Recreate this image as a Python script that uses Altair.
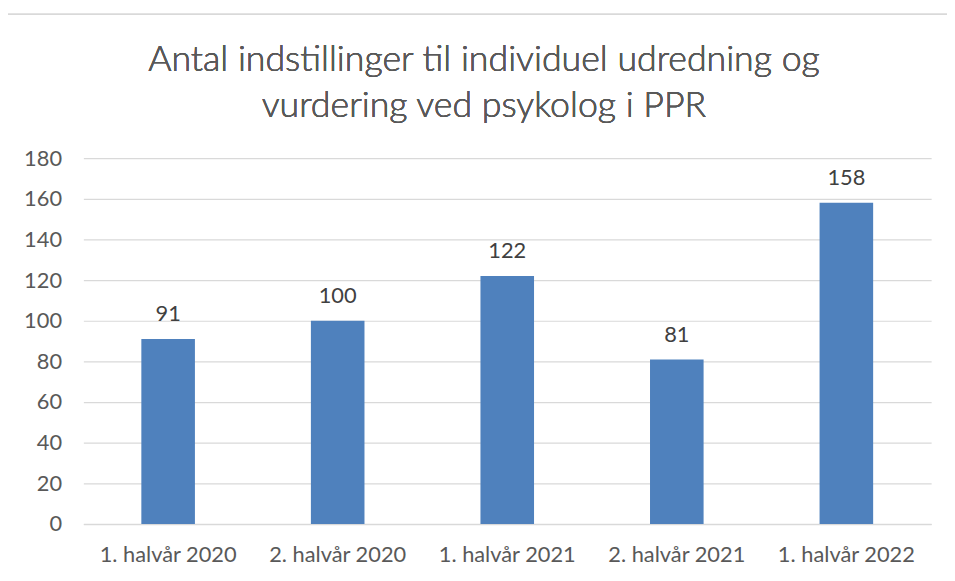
import altair as alt
import pandas as pd

categories = ["1. halvår 2020", "2. halvår 2020", "1. halvår 2021", "2. halvår 2021", "1. halvår 2022"]
values = [91, 100, 122, 81, 158]
title_lines = ["Antal indstillinger til individuel udredning og", "vurdering ved psykolog i PPR"]

df = pd.DataFrame({"periode": categories, "antal": values})

FONT = "Lato"
W, H = 855, 369
TXT = "#595959"
FS = 22

base = alt.Chart(df).encode(
    x=alt.X("periode:N", sort=categories, title=None,
            scale=alt.Scale(paddingInner=0.684, paddingOuter=0.342),
            axis=alt.Axis(labelAngle=0, labelFontSize=FS, labelColor=TXT,
                          labelFont=FONT, labelFontWeight="normal", labelPadding=21, ticks=False,
                          domainColor="#D9D9D9", domainWidth=1.5, grid=False)),
    y=alt.Y("antal:Q", title=None,
            scale=alt.Scale(domain=[0, 180], nice=False),
            axis=alt.Axis(values=list(range(0, 181, 20)), labelFontSize=FS,
                          labelColor=TXT, labelFont=FONT, labelFontWeight="normal", labelPadding=22,
                          ticks=False, domain=False, gridColor="#D9D9D9", gridWidth=1.2)),
)

bars = base.mark_bar(color="#4F81BD")
labels = base.mark_text(baseline="alphabetic", dy=-18, fontSize=FS, font=FONT,
                        fontWeight="normal", color="#404040").encode(
    text=alt.Text("antal:Q"))

border = alt.Chart(df).mark_rect(fill=None, stroke="#D9D9D9", strokeWidth=1.2).encode(
    x=alt.value(-77), x2=alt.value(W + 120), y=alt.value(-145), y2=alt.value(H + 120))

title1 = alt.Chart(df).mark_text(fontSize=36, font=FONT, fontWeight=300, color=TXT,
                                 baseline="alphabetic", align="center").encode(
    x=alt.value(404), y=alt.value(-88), text=alt.value(title_lines[0]))
title2 = alt.Chart(df).mark_text(fontSize=36, font=FONT, fontWeight=300, color=TXT,
                                 baseline="alphabetic", align="center").encode(
    x=alt.value(404), y=alt.value(-41), text=alt.value(title_lines[1]))

chart = alt.layer(border, bars, labels, title1, title2).properties(
    width=W, height=H,
    autosize=alt.AutoSizeParams(type="none"),
    padding={"left": 76, "top": 149, "right": 16, "bottom": 50},
).configure_view(stroke=None)

chart.save("out.html", embed_options={"renderer": "svg", "actions": False})
